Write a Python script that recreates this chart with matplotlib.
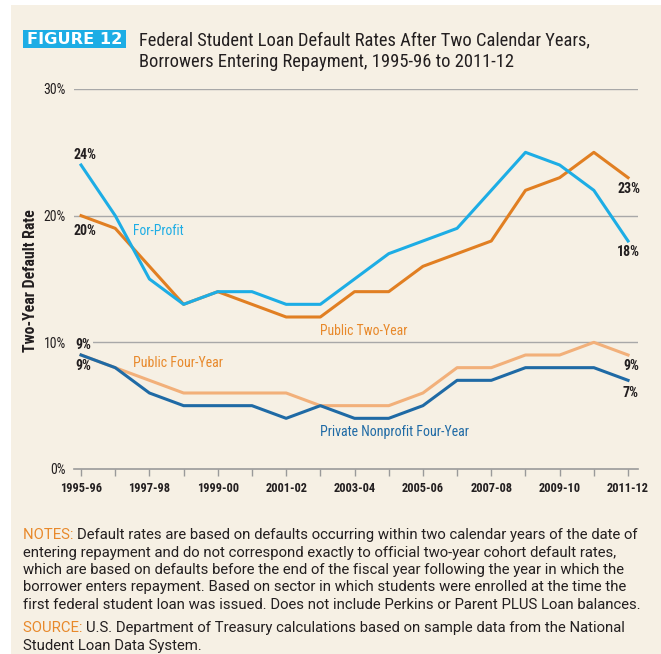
import matplotlib.pyplot as plt
from matplotlib.patches import Rectangle

plt.rcParams['font.family'] = ['Roboto', 'Liberation Sans', 'DejaVu Sans']
cond = ['Roboto Condensed', 'Liberation Sans Narrow', 'Liberation Sans']

# Datos
years = ["1995-96", "1996-97", "1997-98", "1998-99", "1999-00", "2000-01", "2001-02", "2002-03",
         "2003-04", "2004-05", "2005-06", "2006-07", "2007-08", "2008-09", "2009-10", "2010-11", "2011-12"]
for_profit = [24, 20, 15, 13, 14, 14, 13, 13, 15, 17, 18, 19, 22, 25, 24, 22, 18]
public_two = [20, 19, 16, 13, 14, 13, 12, 12, 14, 14, 16, 17, 18, 22, 23, 25, 23]
public_four = [9, 8, 7, 6, 6, 6, 6, 5, 5, 5, 6, 8, 8, 9, 9, 10, 9]
private_nonprofit = [9, 8, 6, 5, 5, 5, 4, 5, 4, 4, 5, 7, 7, 8, 8, 8, 7]

bg = "#F6F0E4"
c_fp = "#1DADE5"
c_p2 = "#E17F22"
c_p4 = "#F2B07A"
c_pn = "#1F6AA5"
c_lab = "#E8892B"
c_txt = "#231F20"

W, H = 661, 654
fig = plt.figure(figsize=(6.61, 6.54), dpi=100, facecolor="white")
fig.patches.append(Rectangle((11 / W, 0), 1, 1 - 5 / H, transform=fig.transFigure,
                             facecolor=bg, edgecolor="none", zorder=-5))
renderer = fig.canvas.get_renderer()


def fit(t, width_px):
    bb = t.get_window_extent(renderer)
    t.set_fontsize(t.get_fontsize() * width_px / bb.width)
    return t


def probe(s, width_px, **kw):
    t = fit(fig.text(0, 0, s, fontsize=10, **kw), width_px)
    size = t.get_fontsize()
    t.remove()
    return size


fs_xt = probe("1995-96", 42, fontweight="bold", family=cond)
fs_yt = probe("20%", 22, family=cond)
fs_end = probe("24%", 23, fontweight="bold", family=cond)
fs_yl = probe("Two-Year Default Rate", 143, fontweight="bold", family=cond)

ax = fig.add_axes([74.2 / W, 1 - 469 / H, 564.1 / W, 380 / H], facecolor="none")
ax.set_zorder(2)

x = list(range(len(years)))
ax.plot(x, public_four, color=c_p4, lw=2.2, zorder=3)
ax.plot(x, private_nonprofit, color=c_pn, lw=2.2, zorder=3)
ax.plot(x, public_two, color=c_p2, lw=2.2, zorder=3)
ax.plot(x, for_profit, color=c_fp, lw=2.2, zorder=4)

ax.set_xlim(-0.2, 16.3)
ax.set_ylim(0, 30)
for s in ["top", "right", "left"]:
    ax.spines[s].set_visible(False)
ax.spines["bottom"].set_color("#9a9a9a")
ax.spines["bottom"].set_linewidth(1.2)

ax.set_yticks([0, 10, 20, 30])
ax.set_yticklabels(["0%", "10%", "20%", "30%"], family=cond)
ax.tick_params(axis="y", length=0, pad=6, labelsize=fs_yt, colors=c_txt)
for yv in [10, 20, 30]:
    ax.axhline(yv, color="#a8a8a8", lw=1, zorder=1)

ax.set_xticks(x)
ax.set_xticklabels([y if i % 2 == 0 else "" for i, y in enumerate(years)], family=cond,
                   fontweight="bold")
ax.tick_params(axis="x", length=5, width=1, color="#9a9a9a", pad=4, labelsize=fs_xt, labelcolor=c_txt)

ax.set_ylabel("Two-Year Default Rate", fontsize=fs_yl, fontweight="bold", color=c_txt, family=cond)
ax.yaxis.set_label_coords(-0.064, 0.495)

# etiquetas de series
fit(ax.text(1.52, 18.8, "For-Profit", color=c_fp, fontsize=10, va="center", family=cond), 51)
fit(ax.text(6.99, 10.9, "Public Two-Year", color=c_lab, fontsize=10, va="center", family=cond), 88)
fit(ax.text(1.52, 8.37, "Public Four-Year", color=c_lab, fontsize=10, va="center", family=cond), 90)
fit(ax.text(6.99, 2.9, "Private Nonprofit Four-Year", color=c_pn, fontsize=10, va="center",
            family=cond), 149)

# valores extremos
kw = dict(fontsize=fs_end, fontweight="bold", color=c_txt, va="center", family=cond)
ax.text(-0.23, 24.8, "24%", **kw)
ax.text(-0.23, 18.8, "20%", **kw)
ax.text(-0.18, 9.8, "9%", bbox=dict(fc=bg, ec="none", pad=1.5), zorder=2, **kw)
ax.text(-0.18, 8.1, "9%", **kw)
ax.text(15.68, 22.1, "23%", **kw)
ax.text(15.68, 17.1, "18%", **kw)
ax.text(15.85, 8.1, "9%", **kw)
ax.text(15.85, 6.0, "7%", **kw)

# titulo
fig.patches.append(Rectangle((23 / W, 1 - 48 / H), 103 / W, 18 / H, transform=fig.transFigure,
                             facecolor=c_fp, edgecolor="none", zorder=1))
fit(fig.text(74.5 / W, 1 - 39.5 / H, "FIGURE 12", fontsize=11, fontweight="bold", color="white",
             ha="center", va="center", family="DejaVu Sans"), 95)
fit(fig.text(139 / W, 1 - 40 / H, "Federal Student Loan Default Rates After Two Calendar Years,",
             fontsize=12, color=c_txt, va="center", family=cond), 450)
fit(fig.text(139 / W, 1 - 62 / H, "Borrowers Entering Repayment, 1995-96 to 2011-12",
             fontsize=12, color=c_txt, va="center", family=cond), 373)

# notas
notes = ["Default rates are based on defaults occurring within two calendar years of the date of",
         "entering repayment and do not correspond exactly to official two-year cohort default rates,",
         "which are based on defaults before the end of the fiscal year following the year in which the",
         "borrower enters repayment. Based on sector in which students were enrolled at the time the",
         "first federal student loan was issued. Does not include Perkins or Parent PLUS Loan balances."]
source = ["U.S. Department of Treasury calculations based on sample data from the National",
          "Student Loan Data System."]

x0 = 23 / W
fs = probe("NOTES: " + notes[0], 617)

t1 = fig.text(x0, 1 - 535 / H, "NOTES: ", color=c_lab, fontsize=fs, va="center")
w1 = t1.get_window_extent(renderer).width / W
fig.text(x0 + w1, 1 - 535 / H, notes[0], color=c_txt, fontsize=fs, va="center")
for i, line in enumerate(notes[1:]):
    fig.text(x0, 1 - (552.5 + 17.5 * i) / H, line, color=c_txt, fontsize=fs, va="center")
t2 = fig.text(x0, 1 - 628 / H, "SOURCE: ", color=c_lab, fontsize=fs, va="center")
w2 = t2.get_window_extent(renderer).width / W
fig.text(x0 + w2, 1 - 628 / H, source[0], color=c_txt, fontsize=fs, va="center")
fig.text(x0, 1 - 646 / H, source[1], color=c_txt, fontsize=fs, va="center")

fig.savefig("out.png", dpi=100, facecolor="white")
